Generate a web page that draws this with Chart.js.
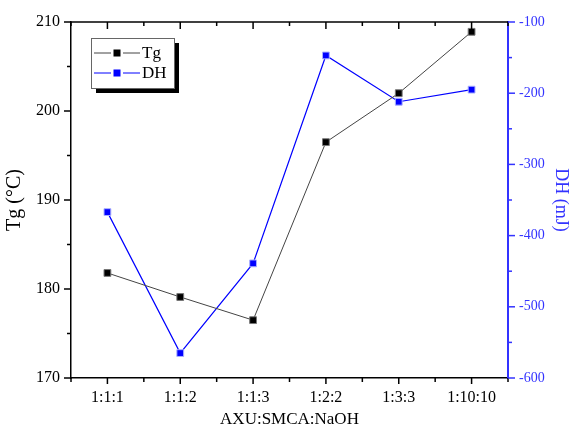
<!DOCTYPE html>
<html>
<head>
<meta charset="utf-8">
<script src="https://cdn.jsdelivr.net/npm/chart.js@4"></script>
<style>
  body { margin: 0; background: #fff; }
  #wrap { width: 570px; height: 428px; }
</style>
</head>
<body>
<div id="wrap"><canvas id="chart" width="570" height="428"></canvas></div>
<script>
// data
const ratios = ['1:1:1', '1:1:2', '1:1:3', '1:2:2', '1:3:3', '1:10:10'];
const tgValues = [181.8, 179.1, 176.5, 196.5, 202.0, 208.9];
const dhValues = [-367, -565, -439, -147, -212, -195];
const tgTicks = [170, 180, 190, 200, 210];
const dhTicks = [-600, -500, -400, -300, -200, -100];

const SERIF = '"Liberation Serif", "Times New Roman", serif';
const BLUE = '#0000ff';
const AXIS_BLUE = '#3333ff';

function strokeLine(ctx, x1, y1, x2, y2) {
  ctx.beginPath();
  ctx.moveTo(x1, y1);
  ctx.lineTo(x2, y2);
  ctx.stroke();
}

// top frame, major/minor tick marks in the Origin style
const axisMarks = {
  id: 'axisMarks',
  afterDraw(chart) {
    const { ctx, chartArea: a, scales: { x, y, y1 } } = chart;
    ctx.save();
    ctx.lineWidth = 1.5;
    ctx.strokeStyle = '#000';
    strokeLine(ctx, a.left, a.top, a.right, a.top);

    ratios.forEach((_, i) => {
      const px = x.getPixelForValue(i);
      strokeLine(ctx, px, a.bottom, px, a.bottom + 6);
      strokeLine(ctx, px, a.top, px, a.top + 7);
    });
    for (let i = 0; i <= ratios.length; i++) {
      const px = x.getPixelForValue(i - 0.5);
      strokeLine(ctx, px, a.bottom, px, a.bottom + 4);
      strokeLine(ctx, px, a.top, px, a.top + 4);
    }

    tgTicks.forEach((v, i) => {
      const py = y.getPixelForValue(v);
      strokeLine(ctx, a.left - 7, py, a.left, py);
      if (i < tgTicks.length - 1) {
        const pm = y.getPixelForValue((v + tgTicks[i + 1]) / 2);
        strokeLine(ctx, a.left - 4, pm, a.left, pm);
      }
    });

    ctx.strokeStyle = AXIS_BLUE;
    dhTicks.forEach((v, i) => {
      const py = y1.getPixelForValue(v);
      strokeLine(ctx, a.right, py, a.right + 7, py);
      if (i < dhTicks.length - 1) {
        const pm = y1.getPixelForValue((v + dhTicks[i + 1]) / 2);
        strokeLine(ctx, a.right, pm, a.right + 4, pm);
      }
    });
    ctx.restore();
  }
};

// boxed legend with drop shadow: line - marker - line, then label
const boxLegend = {
  id: 'boxLegend',
  afterDraw(chart) {
    const { ctx, chartArea: a } = chart;
    const bx = a.left + 20, by = a.top + 16, bw = 83, bh = 50;
    ctx.save();
    ctx.fillStyle = '#000';
    ctx.fillRect(bx + 5, by + 5, bw, bh);
    ctx.fillStyle = '#fff';
    ctx.fillRect(bx, by, bw, bh);
    ctx.strokeStyle = '#666';
    ctx.lineWidth = 1;
    ctx.strokeRect(bx + 0.5, by + 0.5, bw, bh);

    ctx.font = '17px ' + SERIF;
    ctx.textBaseline = 'middle';
    chart.data.datasets.forEach((ds, i) => {
      const cy = by + 15 + i * 20;
      ctx.strokeStyle = ds.borderColor;
      ctx.lineWidth = 1;
      strokeLine(ctx, bx + 3, cy, bx + 20, cy);
      strokeLine(ctx, bx + 32, cy, bx + 49, cy);
      ctx.fillStyle = ds.pointBackgroundColor;
      ctx.fillRect(bx + 22.5, cy - 3.5, 7, 7);
      ctx.fillStyle = '#000';
      ctx.fillText(ds.label, bx + 51, cy + 1);
    });
    ctx.restore();
  }
};

new Chart(document.getElementById('chart'), {
  type: 'line',
  data: {
    labels: ratios,
    datasets: [
      {
        label: 'Tg',
        data: tgValues,
        yAxisID: 'y',
        borderColor: '#444444',
        borderWidth: 1,
        pointStyle: 'rect',
        pointRadius: 4.8,
        pointBackgroundColor: '#000000',
        pointBorderColor: '#777777',
        pointBorderWidth: 1,
        tension: 0
      },
      {
        label: 'DH',
        data: dhValues,
        yAxisID: 'y1',
        borderColor: BLUE,
        borderWidth: 1.2,
        pointStyle: 'rect',
        pointRadius: 4.8,
        pointBackgroundColor: BLUE,
        pointBorderColor: '#aab0ff',
        pointBorderWidth: 1,
        tension: 0
      }
    ]
  },
  options: {
    responsive: false,
    animation: false,
    layout: { padding: { top: 22, left: 0, right: 0, bottom: 0 } },
    plugins: { legend: { display: false }, tooltip: { enabled: false } },
    scales: {
      x: {
        type: 'category',
        position: 'bottom',
        offset: true,
        grid: { display: false, drawTicks: false },
        border: { display: true, color: '#000', width: 1.5 },
        ticks: { color: '#000', font: { family: SERIF, size: 16 }, padding: 10, maxRotation: 0, autoSkip: false },
        title: { display: true, text: 'AXU:SMCA:NaOH', color: '#000', font: { family: SERIF, size: 17, lineHeight: 1 }, padding: { top: 0, bottom: 0 } },
        afterFit(s) { s.height = 50; }
      },
      y: {
        position: 'left',
        min: 170,
        max: 210,
        grid: { display: false, drawTicks: false },
        border: { display: true, color: '#000', width: 1.5 },
        afterBuildTicks(s) { s.ticks = tgTicks.map(v => ({ value: v })); },
        ticks: { color: '#000', font: { family: SERIF, size: 16 }, padding: 11 },
        title: { display: true, text: 'Tg (°C)', color: '#000', font: { family: SERIF, size: 20, lineHeight: 1 }, padding: { top: 5, bottom: 0 } },
        afterFit(s) { s.width = 71; }
      },
      y1: {
        position: 'right',
        min: -600,
        max: -100,
        grid: { display: false, drawTicks: false },
        border: { display: true, color: AXIS_BLUE, width: 2 },
        afterBuildTicks(s) { s.ticks = dhTicks.map(v => ({ value: v })); },
        ticks: { color: AXIS_BLUE, font: { family: SERIF, size: 14 }, padding: 11 },
        title: { display: true, text: 'DH (mJ)', color: AXIS_BLUE, font: { family: SERIF, size: 18, lineHeight: 1 }, padding: { top: 0, bottom: 0 } },
        afterFit(s) { s.width = 62; }
      }
    }
  },
  plugins: [axisMarks, boxLegend]
});
</script>
</body>
</html>
